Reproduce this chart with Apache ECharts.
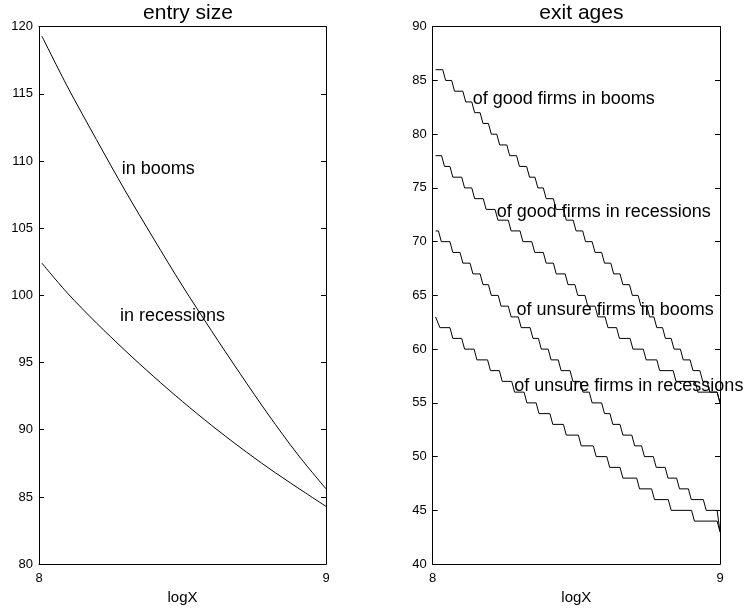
<!DOCTYPE html>
<html>
<head>
<meta charset="utf-8">
<script src="https://cdn.jsdelivr.net/npm/echarts@6/dist/echarts.min.js"></script>
<style>
html,body{margin:0;padding:0;background:#fff;}
#chart{width:748px;height:610px;}
</style>
</head>
<body>
<div id="chart"></div>
<script>
// ---------- DATA ----------
// Left panel: entry size
const entryX = [8.01, 8.1, 8.2, 8.3, 8.4, 8.5, 8.6, 8.7, 8.8, 8.9, 9.0];
const entryBooms = [119.3, 115.5, 111.6, 107.8, 104.2, 100.7, 97.4, 94.2, 91.1, 88.2, 85.6];
const entryRecessions = [102.4, 100.15, 97.95, 95.9, 93.95, 92.1, 90.35, 88.7, 87.15, 85.7, 84.3];
const entryLabelText = ['in booms', 'in recessions'];
const entryLabelX = [8.288, 8.282];
const entryLabelY = [109.4, 98.5];

// Right panel: exit ages (integer step levels, and the x where each level's flat part ends)
const exitStartX = 8.01;
const gridStep = 0.01;
const goodBoomLevels = [86,85,84,83,82,81,80,79,78,77,76,75,74,73,72,71,70,69,68,67,66,65,64,63,62,61,60,59,58,57,56,55];
const goodBoomEnds = [8.035,8.066,8.105,8.136,8.165,8.194,8.223,8.258,8.292,8.327,8.356,8.385,8.420,8.455,8.489,8.522,8.555,8.588,8.620,8.652,8.685,8.715,8.745,8.770,8.800,8.830,8.862,8.896,8.930,8.955,8.990];
const goodRecLevels = [78,77,76,75,74,73,72,71,70,69,68,67,66,65,64,63,62,61,60,59,58,57,56,55];
const goodRecEnds = [8.031,8.060,8.101,8.136,8.176,8.217,8.263,8.304,8.345,8.385,8.420,8.461,8.495,8.530,8.565,8.600,8.640,8.687,8.733,8.780,8.837,8.913,8.990];
const unsureBoomLevels = [71,70,69,68,67,66,65,64,63,62,61,60,59,58,57,56,55,54,53,52,51,50,49,48,47,46,45,43];
const unsureBoomEnds = [8.020,8.060,8.095,8.130,8.165,8.194,8.228,8.263,8.298,8.339,8.368,8.402,8.437,8.478,8.513,8.545,8.588,8.617,8.652,8.693,8.727,8.768,8.809,8.849,8.890,8.942,8.990];
const unsureRecLevels = [63,62,61,60,59,58,57,56,55,54,53,52,51,50,49,48,47,46,45,44,43];
const unsureRecEnds = [8.015,8.060,8.101,8.144,8.191,8.232,8.275,8.318,8.360,8.408,8.455,8.507,8.559,8.606,8.652,8.710,8.762,8.820,8.901,8.990];
const exitLabelText = ['of good firms in booms', 'of good firms in recessions', 'of unsure firms in booms', 'of unsure firms in recessions'];
const exitLabelX = [8.139, 8.223, 8.292, 8.284];
const exitLabelY = [83.25, 72.8, 63.6, 56.6];

// ---------- BUILD ----------
function stepPoints(levels, ends) {
  const pts = [[exitStartX, levels[0]]];
  for (let i = 0; i < levels.length; i++) {
    if (i > 0) pts.push([Math.round((ends[i - 1] + gridStep) * 1000) / 1000, levels[i]]);
    if (i < levels.length - 1) pts.push([ends[i], levels[i]]);
  }
  return pts;
}
function zip(xs, ys) { return xs.map((x, i) => [x, ys[i]]); }
function labelData(txt, xs, ys) { return txt.map((t, i) => ({ name: t, value: [xs[i], ys[i]] })); }

const FONT = 'Liberation Sans, Arial, Helvetica, sans-serif';
const lineStyle = { color: '#000', width: 1 };

function xAxes(gi) {
  return [
    { gridIndex: gi, type: 'value', min: 8, max: 9, interval: 1, position: 'bottom',
      name: 'logX', nameLocation: 'middle', nameGap: 25,
      nameTextStyle: { fontSize: 15, color: '#000', fontFamily: FONT },
      axisLine: { lineStyle: { color: '#000', width: 1 } },
      axisTick: { inside: true, length: 5, lineStyle: { color: '#000' } },
      axisLabel: { fontSize: 13, color: '#000', fontFamily: FONT, margin: 8 },
      splitLine: { show: false } },
    { gridIndex: gi, type: 'value', min: 8, max: 9, interval: 1, position: 'top',
      axisLine: { lineStyle: { color: '#000', width: 1 } },
      axisTick: { inside: true, length: 5, lineStyle: { color: '#000' } },
      axisLabel: { show: false }, splitLine: { show: false } }
  ];
}
function yAxes(gi, min, max) {
  return [
    { gridIndex: gi, type: 'value', min: min, max: max, interval: 5, position: 'left',
      axisLine: { show: true, lineStyle: { color: '#000', width: 1 } },
      axisTick: { show: true, inside: true, length: 5, lineStyle: { color: '#000' } },
      axisLabel: { fontSize: 13, color: '#000', fontFamily: FONT, margin: 6 },
      splitLine: { show: false } },
    { gridIndex: gi, type: 'value', min: min, max: max, interval: 5, position: 'right',
      axisLine: { show: true, lineStyle: { color: '#000', width: 1 } },
      axisTick: { show: true, inside: true, length: 5, lineStyle: { color: '#000' } },
      axisLabel: { show: false }, splitLine: { show: false } }
  ];
}
function labelSeries(xi, yi, data) {
  return { type: 'scatter', xAxisIndex: xi, yAxisIndex: yi, symbolSize: 0, silent: true, z: 5,
    itemStyle: { opacity: 1, color: '#000' },
    data: data,
    label: { show: true, position: 'right', distance: 0, formatter: '{b}', opacity: 1,
      fontSize: 18, color: '#000', fontFamily: FONT } };
}
function lineSeries(xi, yi, data, smooth) {
  return { type: 'line', xAxisIndex: xi, yAxisIndex: yi, data: data, showSymbol: false,
    symbol: 'none', smooth: smooth ? 0.3 : false, lineStyle: lineStyle, silent: true, z: 3 };
}

const chart = echarts.init(document.getElementById('chart'), null, { renderer: 'canvas' });
chart.setOption({
  animation: false,
  backgroundColor: '#fff',
  title: [
    { text: 'entry size', left: 183, top: -2, textAlign: 'center',
      textStyle: { fontSize: 21, fontWeight: 'normal', color: '#000', fontFamily: FONT } },
    { text: 'exit ages', left: 576.4, top: -2, textAlign: 'center',
      textStyle: { fontSize: 21, fontWeight: 'normal', color: '#000', fontFamily: FONT } }
  ],
  grid: [
    { left: 39, top: 26.7, width: 287, height: 537.6, containLabel: false },
    { left: 432.7, top: 26.7, width: 287.3, height: 537.6, containLabel: false }
  ],
  xAxis: [].concat(xAxes(0), xAxes(1)),
  yAxis: [].concat(yAxes(0, 80, 120), yAxes(1, 40, 90)),
  series: [
    lineSeries(0, 0, zip(entryX, entryBooms), true),
    lineSeries(0, 0, zip(entryX, entryRecessions), true),
    labelSeries(0, 0, labelData(entryLabelText, entryLabelX, entryLabelY)),
    lineSeries(2, 2, stepPoints(goodBoomLevels, goodBoomEnds), false),
    lineSeries(2, 2, stepPoints(goodRecLevels, goodRecEnds), false),
    lineSeries(2, 2, stepPoints(unsureBoomLevels, unsureBoomEnds), false),
    lineSeries(2, 2, stepPoints(unsureRecLevels, unsureRecEnds), false),
    labelSeries(2, 2, labelData(exitLabelText, exitLabelX, exitLabelY))
  ]
});
</script>
</body>
</html>
